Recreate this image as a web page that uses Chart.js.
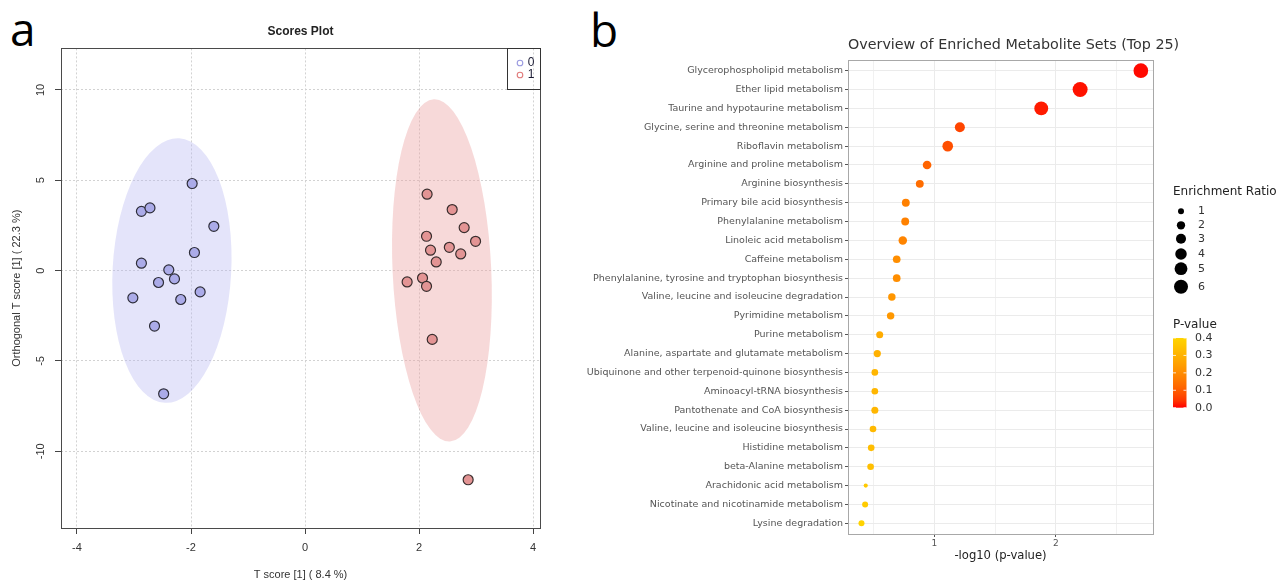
<!DOCTYPE html>
<html>
<head>
<meta charset="utf-8">
<script src="https://cdn.jsdelivr.net/npm/chart.js@4.4.0/dist/chart.umd.min.js"></script>
<style>
  body { margin: 0; background: #fff; width: 1279px; height: 583px; overflow: hidden; position: relative; }
  canvas { position: absolute; top: 0; }
  #chartA { left: 0; }
  #chartB { left: 580px; }
  .panelLabel { position: absolute; font-family: "Open Sans", sans-serif; font-size: 46px; line-height: 46px; color: #000; }
  #labA { left: 10px; top: 5px; }
  #labB { left: 590px; top: 6px; }
</style>
</head>
<body>
<div id="labA" class="panelLabel">a</div>
<div id="labB" class="panelLabel">b</div>
<canvas id="chartA" width="560" height="583"></canvas>
<canvas id="chartB" width="699" height="583"></canvas>
<script>
// ---- panel a : scores plot ----
const group0X = [-1.98, -2.87, -2.72, -1.60, -1.94, -2.87, -2.39, -2.57, -2.29, -1.84, -3.02, -2.18, -2.64, -2.48];
const group0Y = [4.82, 3.28, 3.47, 2.45, 1.00, 0.41, 0.04, -0.66, -0.46, -1.18, -1.51, -1.60, -3.07, -6.82];
const group1X = [2.14, 2.58, 2.79, 2.99, 2.13, 2.20, 2.53, 2.73, 2.30, 2.06, 1.79, 2.13, 2.23, 2.86];
const group1Y = [4.23, 3.38, 2.38, 1.62, 1.90, 1.13, 1.29, 0.92, 0.48, -0.41, -0.63, -0.87, -3.81, -11.58];
const xTicksA = [-4, -2, 0, 2, 4];
const yTicksA = [-10, -5, 0, 5, 10];
// confidence ellipses: end points of the long axis and half width (data units)
const ellipse0Top = [-2.21, 7.32];
const ellipse0Bottom = [-2.46, -7.32];
const ellipse0HalfWidth = 1.04;
const ellipse1Top = [2.26, 9.48];
const ellipse1Bottom = [2.54, -9.46];
const ellipse1HalfWidth = 0.865;

// ---- panel b : enrichment overview ----
const pathways = [
  'Glycerophospholipid metabolism',
  'Ether lipid metabolism',
  'Taurine and hypotaurine metabolism',
  'Glycine, serine and threonine metabolism',
  'Riboflavin metabolism',
  'Arginine and proline metabolism',
  'Arginine biosynthesis',
  'Primary bile acid biosynthesis',
  'Phenylalanine metabolism',
  'Linoleic acid metabolism',
  'Caffeine metabolism',
  'Phenylalanine, tyrosine and tryptophan biosynthesis',
  'Valine, leucine and isoleucine degradation',
  'Pyrimidine metabolism',
  'Purine metabolism',
  'Alanine, aspartate and glutamate metabolism',
  'Ubiquinone and other terpenoid-quinone biosynthesis',
  'Aminoacyl-tRNA biosynthesis',
  'Pantothenate and CoA biosynthesis',
  'Valine, leucine and isoleucine biosynthesis',
  'Histidine metabolism',
  'beta-Alanine metabolism',
  'Arachidonic acid metabolism',
  'Nicotinate and nicotinamide metabolism',
  'Lysine degradation'
];
const negLogP = [2.70, 2.20, 1.88, 1.21, 1.11, 0.94, 0.88, 0.765, 0.76, 0.74, 0.69, 0.69, 0.65, 0.64, 0.55, 0.53, 0.51, 0.51, 0.51, 0.495, 0.48, 0.475, 0.435, 0.43, 0.40];
const enrichRatio = [6.6, 6.9, 5.9, 3.0, 3.4, 2.2, 1.8, 1.8, 1.8, 2.1, 1.7, 1.7, 1.6, 1.6, 1.4, 1.5, 1.25, 1.25, 1.4, 1.25, 1.25, 1.25, 0.45, 1.0, 1.0];
const xGridB = [0.5, 1, 1.5, 2, 2.5];
const legendRatios = [1, 2, 3, 4, 5, 6];
const legendPvalues = [0.4, 0.3, 0.2, 0.1, 0.0];
const titleB = 'Overview of Enriched Metabolite Sets (Top 25)';

function ratioRadius(v) {
  return 3 + (Math.sqrt(v) - 1) * 2.76;
}
function pColor(p) {
  const t = Math.pow(Math.min(Math.max(p / 0.4, 0), 1), 0.6);
  return 'rgb(255,' + Math.round(212 * t) + ',0)';
}

const ellipsePlugin = {
  id: 'ellipses',
  beforeDatasetsDraw(chart) {
    const {ctx, scales: {x, y}} = chart;
    const shapes = [
      [ellipse0Top, ellipse0Bottom, ellipse0HalfWidth, 'rgba(180,180,240,0.36)'],
      [ellipse1Top, ellipse1Bottom, ellipse1HalfWidth, 'rgba(236,160,160,0.40)']
    ];
    ctx.save();
    shapes.forEach(([t, b, hw, col]) => {
      const x1 = x.getPixelForValue(t[0]), y1 = y.getPixelForValue(t[1]);
      const x2 = x.getPixelForValue(b[0]), y2 = y.getPixelForValue(b[1]);
      const rMajor = Math.hypot(x2 - x1, y2 - y1) / 2;
      const rMinor = Math.abs(x.getPixelForValue(hw) - x.getPixelForValue(0));
      const ang = Math.atan2(y2 - y1, x2 - x1);
      ctx.beginPath();
      ctx.ellipse((x1 + x2) / 2, (y1 + y2) / 2, rMajor, rMinor, ang, 0, Math.PI * 2);
      ctx.fillStyle = col;
      ctx.fill();
    });
    ctx.restore();
  },
  afterDraw(chart) {
    const {ctx, chartArea: a} = chart;
    ctx.save();
    ctx.strokeStyle = '#4a4a4a';
    ctx.lineWidth = 1;
    ctx.strokeRect(Math.round(a.left) + 0.5, Math.round(a.top) + 0.5, Math.round(a.right - a.left), Math.round(a.bottom - a.top));
    // legend box in the top right corner
    const bx = Math.round(a.right) - 33, by = Math.round(a.top);
    ctx.strokeStyle = '#333';
    ctx.strokeRect(bx + 0.5, by + 0.5, 33, 41);
    ctx.lineWidth = 1.1;
    ctx.strokeStyle = '#9a9ae0';
    ctx.beginPath(); ctx.arc(bx + 13, by + 15, 2.8, 0, Math.PI * 2); ctx.stroke();
    ctx.strokeStyle = '#e07a7a';
    ctx.beginPath(); ctx.arc(bx + 13, by + 27, 2.8, 0, Math.PI * 2); ctx.stroke();
    ctx.fillStyle = '#1a1a33';
    ctx.font = '12px "Liberation Sans"';
    ctx.textAlign = 'center';
    ctx.textBaseline = 'middle';
    ctx.fillText('0', bx + 24, by + 15);
    ctx.fillText('1', bx + 24, by + 27);
    ctx.restore();
  }
};

const fontA = {family: 'Liberation Sans', size: 11};

new Chart(document.getElementById('chartA'), {
  type: 'scatter',
  data: {
    datasets: [{
      label: '0',
      data: group0X.map((v, i) => ({x: v, y: group0Y[i]})),
      backgroundColor: '#ababe8',
      borderColor: '#2e2e3a',
      borderWidth: 1.2,
      pointRadius: 5
    }, {
      label: '1',
      data: group1X.map((v, i) => ({x: v, y: group1Y[i]})),
      backgroundColor: '#e39494',
      borderColor: '#3a2e2e',
      borderWidth: 1.2,
      pointRadius: 5
    }]
  },
  options: {
    responsive: false,
    animation: false,
    events: [],
    layout: {padding: {left: 0, right: 20, top: 0, bottom: 0}},
    plugins: {
      legend: {display: false},
      tooltip: {enabled: false},
      title: {
        display: true, text: 'Scores Plot', fullSize: false,
        font: {family: 'Liberation Sans', size: 12, weight: 'bold'}, color: '#222',
        padding: {top: 24, bottom: 10}
      }
    },
    scales: {
      x: {
        type: 'linear', min: -4.28, max: 4.12,
        afterBuildTicks: s => { s.ticks = xTicksA.map(v => ({value: v})); },
        afterFit: s => { s.height = 55; },
        grid: {color: '#d2d2d2', tickColor: '#444', tickLength: 6},
        border: {display: false, dash: [2, 2]},
        ticks: {font: fontA, color: '#333', padding: 7, maxRotation: 0},
        title: {display: true, text: 'T score [1] ( 8.4 %)', font: fontA, color: '#333', padding: {top: 0, bottom: 1}}
      },
      y: {
        type: 'linear', min: -14.25, max: 12.3,
        afterBuildTicks: s => { s.ticks = yTicksA.map(v => ({value: v})); },
        afterFit: s => { s.width = 61; },
        grid: {color: '#d2d2d2', tickColor: '#444', tickLength: 6},
        border: {display: false, dash: [2, 2]},
        ticks: {font: fontA, color: '#333', padding: 6, minRotation: 90, maxRotation: 90, crossAlign: 'center'},
        title: {display: true, text: 'Orthogonal T score [1] ( 22.3 %)', font: fontA, color: '#333', padding: {top: 10, bottom: 0}}
      }
    }
  },
  plugins: [ellipsePlugin]
});

// ---- panel b ----
const legendPlugin = {
  id: 'enrichLegend',
  afterDraw(chart) {
    const {ctx, chartArea: a} = chart;
    ctx.save();
    ctx.strokeStyle = '#a8a8a8';
    ctx.lineWidth = 1;
    ctx.strokeRect(Math.round(a.left) + 0.5, Math.round(a.top) + 0.5, Math.round(a.right - a.left), Math.round(a.bottom - a.top));

    // title, left aligned on the panel and allowed to run past it
    ctx.fillStyle = '#333';
    ctx.font = '14.3px "DejaVu Sans"';
    ctx.textAlign = 'left';
    ctx.textBaseline = 'middle';
    ctx.fillText(titleB, a.left, 45);

    const lx = a.right + 20;
    const keyY = [211.3, 225.3, 238.7, 254, 268.7, 286.7];
    ctx.fillStyle = '#222';
    ctx.font = '12px "DejaVu Sans"';
    ctx.fillText('Enrichment Ratio', lx, 192);
    legendRatios.forEach((v, i) => {
      ctx.beginPath();
      ctx.arc(lx + 8, keyY[i], ratioRadius(v), 0, Math.PI * 2);
      ctx.fillStyle = '#000';
      ctx.fill();
      ctx.fillStyle = '#333';
      ctx.font = '11px "DejaVu Sans"';
      ctx.fillText(String(v), lx + 25, keyY[i]);
    });

    ctx.fillStyle = '#222';
    ctx.font = '12px "DejaVu Sans"';
    ctx.fillText('P-value', lx, 325);
    const top = 338, bottom = 407.7;
    const grad = ctx.createLinearGradient(0, bottom, 0, top);
    for (let k = 0; k <= 10; k++) grad.addColorStop(k / 10, pColor(0.04 * k));
    ctx.fillStyle = grad;
    ctx.fillRect(lx, top, 13.5, bottom - top);
    ctx.font = '11px "DejaVu Sans"';
    legendPvalues.forEach(p => {
      const yy = bottom - (p / 0.4) * (bottom - top);
      ctx.strokeStyle = 'rgba(255,255,255,0.8)';
      ctx.beginPath();
      ctx.moveTo(lx, yy); ctx.lineTo(lx + 3, yy);
      ctx.moveTo(lx + 10.5, yy); ctx.lineTo(lx + 13.5, yy);
      ctx.stroke();
      ctx.fillStyle = '#333';
      ctx.fillText(p.toFixed(1), lx + 22, yy);
    });
    ctx.restore();
  }
};

new Chart(document.getElementById('chartB'), {
  type: 'scatter',
  data: {
    datasets: [{
      label: 'Enrichment',
      data: pathways.map((p, i) => ({x: negLogP[i], y: i + 1})),
      pointRadius: pathways.map((p, i) => ratioRadius(enrichRatio[i])),
      backgroundColor: negLogP.map(v => pColor(Math.pow(10, -v))),
      borderWidth: 0
    }]
  },
  options: {
    responsive: false,
    animation: false,
    events: [],
    layout: {padding: {left: 0, right: 126, top: 60, bottom: 0}},
    plugins: {
      legend: {display: false},
      tooltip: {enabled: false},
      title: {display: false}
    },
    scales: {
      x: {
        type: 'linear', min: 0.289, max: 2.80,
        afterBuildTicks: s => { s.ticks = xGridB.map(v => ({value: v})); },
        afterFit: s => { s.height = 49; },
        grid: {
          color: '#ebebeb',
          lineWidth: c => Number.isInteger(c.tick.value) ? 1 : 0.7,
          tickColor: c => Number.isInteger(c.tick.value) ? '#555' : 'rgba(0,0,0,0)',
          tickLength: 3
        },
        border: {display: false},
        ticks: {
          font: {family: 'DejaVu Sans', size: 9}, color: '#555', padding: 1, maxRotation: 0,
          callback: v => Number.isInteger(v) ? String(v) : ''
        },
        title: {display: true, text: '-log10 (p-value)', font: {family: 'DejaVu Sans', size: 11.6}, color: '#222', padding: {top: 0, bottom: 20}}
      },
      y: {
        type: 'linear', reverse: true, min: 0.433, max: 25.567,
        afterBuildTicks: s => { s.ticks = pathways.map((p, i) => ({value: i + 1})); },
        afterFit: s => { s.width = 268; },
        grid: {color: '#ebebeb', tickColor: '#555', tickLength: 3},
        border: {display: false},
        ticks: {
          font: {family: 'DejaVu Sans', size: 9.5}, color: '#555', padding: 2,
          callback: v => pathways[v - 1]
        }
      }
    }
  },
  plugins: [legendPlugin]
});
</script>
</body>
</html>
